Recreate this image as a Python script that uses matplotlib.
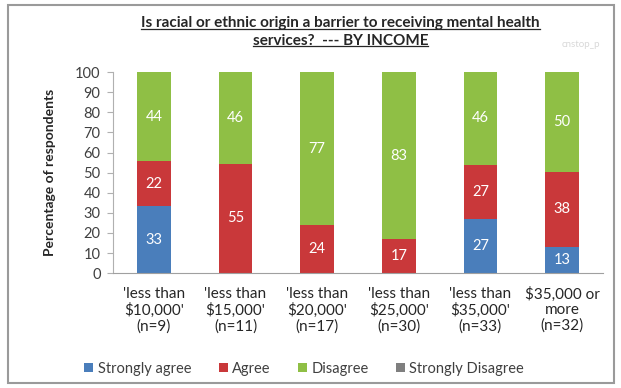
import matplotlib
matplotlib.use("Agg")
import matplotlib.pyplot as plt
import numpy as np
from matplotlib.patches import Rectangle
from matplotlib.lines import Line2D

plt.rcParams['font.family'] = ['Lato', 'DejaVu Sans']

categories = ["'less than\n$10,000'\n(n=9)", "'less than\n$15,000'\n(n=11)",
              "'less than\n$20,000'\n(n=17)", "'less than\n$25,000'\n(n=30)",
              "'less than\n$35,000'\n(n=33)", "$35,000 or\nmore\n(n=32)"]
strongly_agree = [33, 0, 0, 0, 27, 13]
agree = [22, 55, 24, 17, 27, 38]
disagree = [44, 46, 77, 83, 46, 50]
strongly_disagree = [0, 0, 0, 0, 0, 0]
series_names = ["Strongly agree", "Agree", "Disagree", "Strongly Disagree"]
colors = ["#4A7EBB", "#C9383A", "#8FBF45", "#7F7F7F"]
yticks = [0, 10, 20, 30, 40, 50, 60, 70, 80, 90, 100]

fig = plt.figure(figsize=(6.21, 3.88), dpi=100)
ax = fig.add_axes([0.182, 0.296, 0.789, 0.518])

x = np.arange(len(categories))
series = [np.array(s, dtype=float) for s in [strongly_agree, agree, disagree, strongly_disagree]]
totals = sum(series)
bottom = np.zeros(len(categories))
for name, vals, c in zip(series_names, series, colors):
    pct = vals / totals * 100  # 100% stacked
    ax.bar(x, pct, 0.41, bottom=bottom, color=c, label=name)
    for xi, b, p, v in zip(x, bottom, pct, vals):
        if v > 0:
            ax.text(xi, b + p / 2, f"{int(v)}", ha='center', va='center',
                    color='white', fontsize=10.5)
    bottom += pct

ax.set_xlim(-0.5, len(categories) - 0.5)
ax.set_ylim(0, 100)
ax.set_yticks(yticks)
ax.set_yticklabels([str(t) for t in yticks], fontsize=10.5, color='#404040')
ax.set_xticks(x)
ax.set_xticklabels(categories, fontsize=11, color='#262626', linespacing=1.12)
ax.tick_params(axis='x', length=0, pad=10)
ax.tick_params(axis='y', length=4, direction='out', color='#B0B0B0', pad=5)
for s in ['top', 'right']:
    ax.spines[s].set_visible(False)
ax.spines['left'].set_color('#B0B0B0')
ax.spines['bottom'].set_color('#A0A0A0')
ax.set_ylabel("Percentage of respondents", fontsize=10, fontweight='bold', color='#262626', labelpad=14)

leg = fig.legend(loc='center', bbox_to_anchor=(0.49, 0.05), ncol=4, frameon=False,
                 fontsize=10.5, handlelength=0.6, handleheight=0.6, handletextpad=0.3,
                 columnspacing=1.9)
for t in leg.get_texts():
    t.set_color('#404040')

t1 = fig.text(0.548, 0.94, "Is racial or ethnic origin a barrier to receiving mental health",
              ha='center', va='center', fontsize=11, fontweight='bold', color='#262626')
t2 = fig.text(0.548, 0.895, "services?  --- BY INCOME",
              ha='center', va='center', fontsize=11, fontweight='bold', color='#262626')
fig.text(0.935, 0.885, "cnstop_p", ha='center', va='center', fontsize=7, color='#D8D8D8')

fig.canvas.draw()
r = fig.canvas.get_renderer()
inv = fig.transFigure.inverted()
for t in (t1, t2):
    bb = t.get_window_extent(r)
    (x0, y0), (x1, y1) = inv.transform([[bb.x0, bb.y0], [bb.x1, bb.y1]])
    fig.add_artist(Line2D([x0, x1], [y0 + 0.004, y0 + 0.004], transform=fig.transFigure,
                          color='#262626', lw=0.9))

fig.add_artist(Rectangle((0.013, 0.012), 0.975, 0.975, transform=fig.transFigure,
                         fill=False, edgecolor='#9A9A9A', lw=1.5))

fig.savefig("out.png", dpi=100)
